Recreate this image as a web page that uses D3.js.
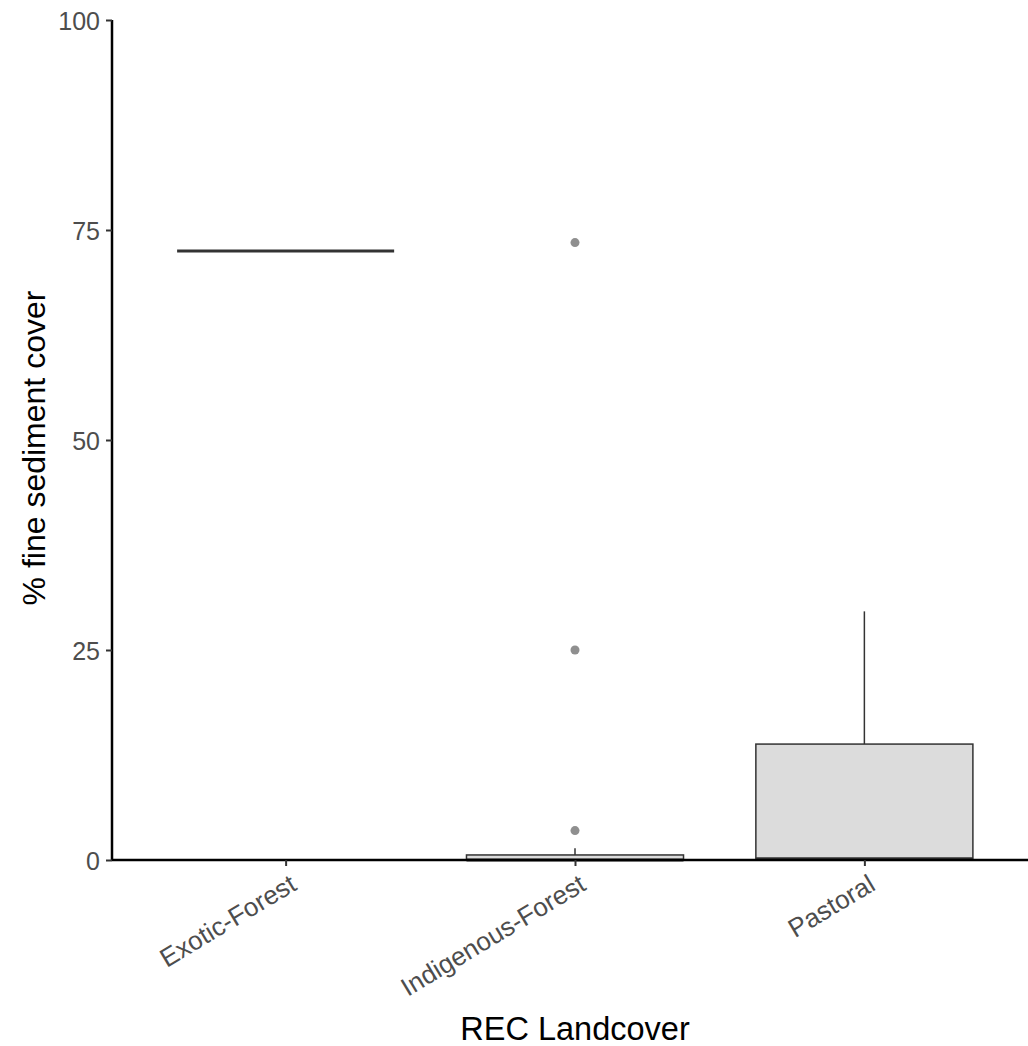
<!DOCTYPE html>
<html>
<head>
<meta charset="utf-8">
<script src="https://cdn.jsdelivr.net/npm/d3@7"></script>
<style>
  body { margin: 0; background: #fff; }
  svg { display: block; font-family: "Liberation Sans", Arial, sans-serif; }
</style>
</head>
<body>
<div id="chart"></div>
<script>
// categorias del eje x
const categories = ['Exotic-Forest', 'Indigenous-Forest', 'Pastoral'];
// estadisticos del boxplot
const lowerWhisker = [72.5, 0, 0];
const q1 = [72.5, 0, 0];
const medians = [72.5, 0, 0.15];
const q3 = [72.5, 0.6, 13.8];
const upperWhisker = [72.5, 1.4, 29.6];
const outliers = [[], [3.5, 25, 73.5], []];
const yTicks = [0, 25, 50, 75, 100];

const W = 1028, H = 1046;
const plotLeft = 112, plotTop = 20, plotBottom = 860;

const svg = d3.select('#chart').append('svg')
  .attr('width', W)
  .attr('height', H);

const x = d3.scalePoint()
  .domain(categories)
  .range([plotLeft, 1038])
  .padding(0.6);

const y = d3.scaleLinear()
  .domain([0, 100])
  .range([plotBottom, plotTop]);

const boxW = x.step() * 0.75;

const data = categories.map((c, i) => ({
  cat: c,
  lo: lowerWhisker[i], q1: q1[i], med: medians[i], q3: q3[i], hi: upperWhisker[i],
  out: outliers[i]
}));

const g = svg.append('g');

// bigotes
g.selectAll('.whisk-up').data(data).enter().append('line')
  .attr('x1', d => x(d.cat)).attr('x2', d => x(d.cat))
  .attr('y1', d => y(d.q3)).attr('y2', d => y(d.hi))
  .attr('stroke', '#333').attr('stroke-width', 1.5);
g.selectAll('.whisk-lo').data(data).enter().append('line')
  .attr('x1', d => x(d.cat)).attr('x2', d => x(d.cat))
  .attr('y1', d => y(d.q1)).attr('y2', d => y(d.lo))
  .attr('stroke', '#333').attr('stroke-width', 1.5);

// cajas
g.selectAll('.box').data(data).enter().append('rect')
  .attr('x', d => x(d.cat) - boxW / 2)
  .attr('width', boxW)
  .attr('y', d => y(d.q3))
  .attr('height', d => y(d.q1) - y(d.q3))
  .attr('fill', '#dcdcdc')
  .attr('stroke', '#333')
  .attr('stroke-width', 1.5);

// medianas
g.selectAll('.median').data(data).enter().append('line')
  .attr('x1', d => x(d.cat) - boxW / 2).attr('x2', d => x(d.cat) + boxW / 2)
  .attr('y1', d => y(d.med)).attr('y2', d => y(d.med))
  .attr('stroke', '#333').attr('stroke-width', 3);

// valores atipicos
const outPts = data.flatMap(d => d.out.map(v => ({ cat: d.cat, v })));
g.selectAll('.outlier').data(outPts).enter().append('circle')
  .attr('cx', d => x(d.cat))
  .attr('cy', d => y(d.v))
  .attr('r', 4.5)
  .attr('fill', '#8f8f8f');

// eje y
const yAxis = svg.append('g')
  .attr('transform', `translate(${plotLeft},0)`)
  .call(d3.axisLeft(y).tickValues(yTicks).tickSize(6).tickPadding(6));
yAxis.select('.domain').attr('stroke', '#000').attr('stroke-width', 2.5)
  .attr('d', `M0,${plotTop}V${plotBottom}`);
yAxis.selectAll('.tick line').attr('stroke', '#333').attr('stroke-width', 2);
yAxis.selectAll('.tick text')
  .attr('fill', '#4d4d4d')
  .style('font-size', '25px')
  .attr('dy', '0.36em');

// eje x
const xAxis = svg.append('g')
  .attr('transform', `translate(0,${plotBottom})`)
  .call(d3.axisBottom(x).tickSize(6).tickPadding(6));
xAxis.select('.domain').attr('stroke', '#000').attr('stroke-width', 2.5)
  .attr('d', `M${plotLeft},0H${W}`);
xAxis.selectAll('.tick line').attr('stroke', '#333').attr('stroke-width', 2);
xAxis.selectAll('.tick text')
  .attr('fill', '#4d4d4d')
  .style('font-size', '26px')
  .attr('text-anchor', 'end')
  .attr('dy', null)
  .attr('y', 0)
  .attr('transform', 'translate(12,29) rotate(-31)');

// titulos
svg.append('text')
  .attr('x', x('Indigenous-Forest'))
  .attr('y', 1040)
  .attr('text-anchor', 'middle')
  .style('font-size', '32.5px')
  .text('REC Landcover');

svg.append('text')
  .attr('transform', `translate(45,${(plotTop + plotBottom) / 2 + 8}) rotate(-90)`)
  .attr('text-anchor', 'middle')
  .style('font-size', '32px')
  .text('% fine sediment cover');
</script>
</body>
</html>
